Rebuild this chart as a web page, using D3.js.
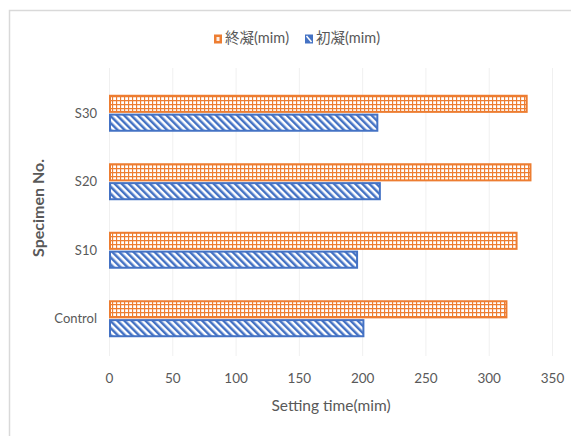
<!DOCTYPE html>
<html>
<head>
<meta charset="utf-8">
<script src="https://cdn.jsdelivr.net/npm/d3@7"></script>
<style>
  html, body { margin: 0; padding: 0; background: #fff; }
  svg { display: block; }
</style>
</head>
<body>
<script>
const categories = ["S30", "S20", "S10", "Control"];
const seriesNames = ["終凝(mim)", "初凝(mim)"];
const finalSet = [330, 333, 322, 314];   // 終凝
const initialSet = [212, 214, 196, 201]; // 初凝
const xTicks = [0, 50, 100, 150, 200, 250, 300, 350];
const xTitle = "Setting time(mim)";
const yTitle = "Specimen No.";

const W = 571, H = 436;
const svg = d3.select("body").append("svg").attr("width", W).attr("height", H);
const font = "Lato, 'Open Sans', sans-serif";
const textCol = "#595959";
const orange = "#ED7D31", blue = "#4472C4";

const defs = svg.append("defs");
const pg = defs.append("pattern").attr("id", "grid").attr("patternUnits", "userSpaceOnUse")
  .attr("width", 4).attr("height", 4);
pg.append("rect").attr("width", 4).attr("height", 4).attr("fill", "#fff");
pg.append("path").attr("d", "M0,0.5H4M0.5,0V4").attr("stroke", orange).attr("stroke-width", 1.3);
const ps = defs.append("pattern").attr("id", "diag").attr("patternUnits", "userSpaceOnUse")
  .attr("width", 5).attr("height", 5).attr("patternTransform", "rotate(-45)");
ps.append("rect").attr("width", 5).attr("height", 5).attr("fill", "#fff");
ps.append("line").attr("x1", 1.25).attr("x2", 1.25).attr("y1", 0).attr("y2", 5)
  .attr("stroke", blue).attr("stroke-width", 2.5);

// frame
svg.append("path").attr("d", "M9.5,436V10.5H571").attr("fill", "none").attr("stroke", "#d9d9d9").attr("stroke-width", 1.5);

const x = d3.scaleLinear().domain([0, 350]).range([109, 552]);
const y = d3.scaleBand().domain(categories).range([79, 353]).paddingInner(0.46).paddingOuter(0.23);
const sub = d3.scaleBand().domain(seriesNames).range([0, y.bandwidth()]).paddingInner(0.04);

// gridlines
svg.append("g").selectAll("line").data(xTicks).join("line")
  .attr("x1", d => x(d) + 0.5).attr("x2", d => x(d) + 0.5)
  .attr("y1", 68).attr("y2", 356)
  .attr("stroke", "#f0f0f0").attr("stroke-width", 1);

const seriesData = [
  { name: seriesNames[0], values: finalSet, fill: "url(#grid)", stroke: orange },
  { name: seriesNames[1], values: initialSet, fill: "url(#diag)", stroke: blue }
];

seriesData.forEach(s => {
  svg.append("g").selectAll("rect").data(categories).join("rect")
    .attr("x", x(0) + 1)
    .attr("y", (c) => y(c) + sub(s.name) + 1)
    .attr("width", (c, i) => x(s.values[i]) - x(0) - 1)
    .attr("height", sub.bandwidth() - 2)
    .attr("fill", s.fill).attr("stroke", s.stroke).attr("stroke-width", 2);
});

// x axis labels
const xAxis = svg.append("g").attr("transform", "translate(0,378)")
  .call(d3.axisBottom(x).tickValues(xTicks).tickSize(0).tickPadding(0));
xAxis.select(".domain").remove();
xAxis.selectAll("text").attr("font-family", font).attr("font-size", 13.5).attr("fill", textCol).attr("dy", "0.35em");

// y axis labels
const yAxis = svg.append("g").attr("transform", "translate(97,0)")
  .call(d3.axisLeft(y).tickSize(0).tickPadding(0));
yAxis.select(".domain").remove();
yAxis.selectAll("text").attr("font-family", font).attr("font-size", 13).attr("fill", textCol).attr("dy", "0.35em");

// titles
svg.append("text").attr("x", 331).attr("y", 407).attr("text-anchor", "middle")
  .attr("dominant-baseline", "middle")
  .attr("font-family", font).attr("font-size", 15.5).attr("fill", textCol).text(xTitle);
svg.append("text").attr("transform", "translate(40,208) rotate(-90)").attr("text-anchor", "middle")
  .attr("dominant-baseline", "middle")
  .attr("font-family", font).attr("font-size", 16).attr("font-weight", "bold").attr("fill", textCol).text(yTitle);

// legend
const legendX = [214, 305];
seriesData.forEach((s, i) => {
  const g = svg.append("g").attr("transform", `translate(${legendX[i]},39)`);
  g.append("rect").attr("x", 0).attr("y", -4.5).attr("width", 8).attr("height", 9)
    .attr("fill", s.stroke);
  g.append("rect").attr("x", 2.5).attr("y", -2).attr("width", 3).attr("height", 4)
    .attr("fill", "#fff").attr("opacity", i === 0 ? 0.85 : 0);
  if (i === 1) g.append("path").attr("d", "M1.5,-3L6.5,3").attr("stroke", "#fff").attr("stroke-width", 1.5);
  g.append("text").attr("x", 11).attr("y", 0).attr("dominant-baseline", "middle")
    .attr("font-family", "Lato, 'Noto Sans CJK JP', sans-serif").attr("font-size", 14.5).attr("fill", textCol).text(s.name);
});
</script>
</body>
</html>
